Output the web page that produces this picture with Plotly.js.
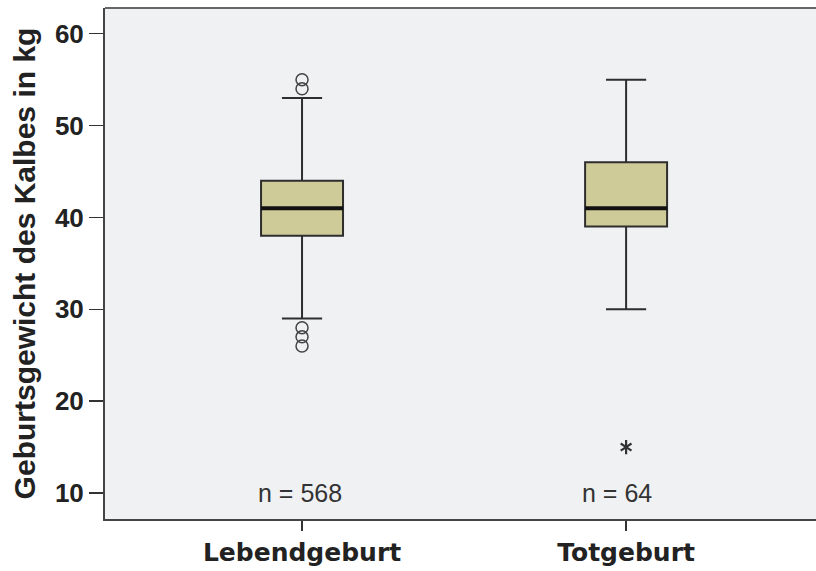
<!DOCTYPE html>
<html>
<head>
<meta charset="utf-8">
<script src="https://cdn.plot.ly/plotly-3.0.1.min.js"></script>
<style>html,body{margin:0;padding:0;background:#fff;}#chart{width:816px;height:571px;}</style>
</head>
<body>
<div id="chart"></div>
<script>
// Data
const categories = ["Lebendgeburt", "Totgeburt"];
const q1 = [38, 39];
const median = [41, 41];
const q3 = [44, 46];
const lowerFence = [29, 30];
const upperFence = [53, 55];
const nCounts = [568, 64];
const outlierCat = ["Lebendgeburt", "Lebendgeburt", "Lebendgeburt", "Lebendgeburt", "Lebendgeburt"];
const outlierVal = [55, 54, 28, 27, 26];
const extremeCat = ["Totgeburt"];
const extremeVal = [15];
const yTicks = [10, 20, 30, 40, 50, 60];

const boxW = 0.253;
const traces = [
  {
    type: "box", x: categories, q1: q1, median: median, q3: q3,
    lowerfence: lowerFence, upperfence: upperFence,
    boxpoints: false, width: boxW, whiskerwidth: 0.49,
    fillcolor: "#cecb98", line: {color: "#2e2e2e", width: 2},
    hoverinfo: "skip", showlegend: false
  },
  {
    // thick median line
    type: "box", x: categories, q1: median, median: median, q3: median,
    lowerfence: median, upperfence: median,
    boxpoints: false, width: boxW, whiskerwidth: 0,
    fillcolor: "rgba(0,0,0,0)", line: {color: "#111", width: 4},
    hoverinfo: "skip", showlegend: false
  },
  {
    type: "scatter", mode: "markers", x: outlierCat, y: outlierVal,
    marker: {symbol: "circle-open", size: 12, color: "#444", line: {width: 1.5}},
    hoverinfo: "skip", showlegend: false
  },
  {
    type: "scatter", mode: "markers", x: extremeCat, y: extremeVal,
    marker: {symbol: "y-up-open", size: 9, color: "#333", line: {width: 2.2, color: "#333"}},
    hoverinfo: "skip", showlegend: false
  },
  {
    type: "scatter", mode: "markers", x: extremeCat, y: extremeVal,
    marker: {symbol: "y-down-open", size: 9, color: "#333", line: {width: 2.2, color: "#333"}},
    hoverinfo: "skip", showlegend: false
  }
];

const annotations = categories.map((c, i) => ({
  x: c, y: 10, xref: "x", yref: "y", text: "n = " + nCounts[i], showarrow: false,
  xanchor: "left", xshift: -46,
  font: {family: "Liberation Sans Narrow, Liberation Sans, Arial", size: 25, color: "#333"}
}));

const layout = {
  width: 816, height: 571,
  margin: {l: 105, r: 0, t: 8, b: 52},
  paper_bgcolor: "#ffffff",
  plot_bgcolor: "#f0f1f3",
  showlegend: false,
  xaxis: {
    type: "category", range: [-0.608, 1.586],
    showline: true, linecolor: "#444", linewidth: 2,
    ticks: "outside", ticklen: 10, tickwidth: 1.5, tickcolor: "#333",
    showgrid: false, zeroline: false,
    tickfont: {family: "DejaVu Sans", size: 25, color: "#222", weight: "bold"}
  },
  yaxis: {
    range: [7.17, 62.8], tickvals: yTicks,
    showline: true, linecolor: "#444", linewidth: 2,
    ticks: "outside", ticklen: 14, tickwidth: 1.5, tickcolor: "#333",
    showgrid: false, zeroline: false,
    tickfont: {family: "Liberation Sans, Arial", size: 26, color: "#222", weight: "bold"},
    title: {text: "Geburtsgewicht des Kalbes in kg", standoff: 10,
      font: {family: "Liberation Sans, Arial", size: 30, color: "#222", weight: "bold"}}
  },
  annotations: annotations,
  shapes: [
    {type: "line", xref: "paper", yref: "paper", x0: 0, x1: 1, y0: 1, y1: 1,
     line: {color: "#666", width: 2}}
  ]
};

Plotly.newPlot("chart", traces, layout, {displayModeBar: false, staticPlot: true});
</script>
</body>
</html>
